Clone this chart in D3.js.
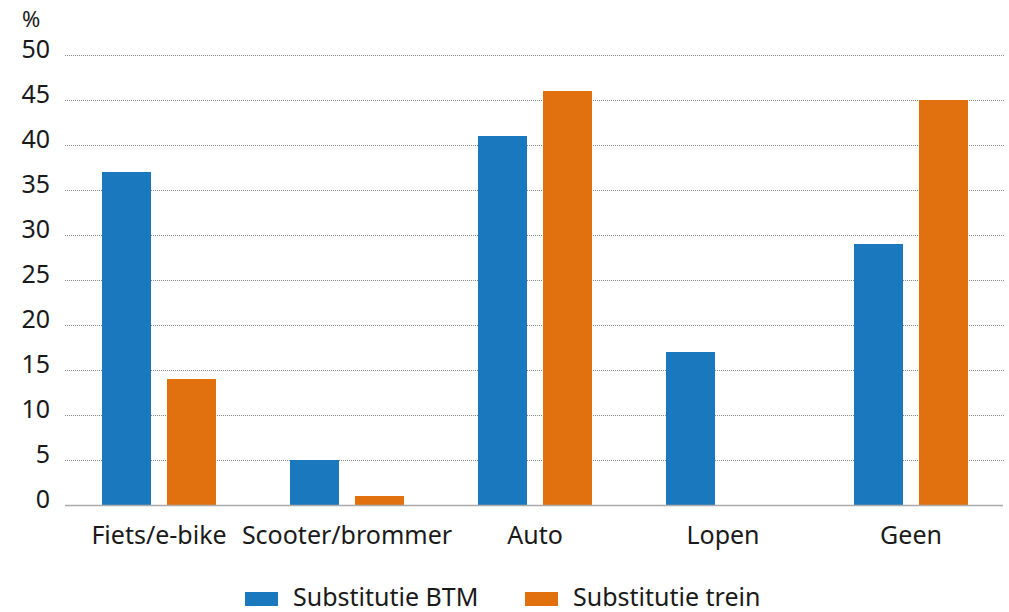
<!DOCTYPE html>
<html><head><meta charset="utf-8">
<script src="https://cdn.jsdelivr.net/npm/d3@7"></script>
<style>body{margin:0;background:#fff}svg{display:block}text{font-family:"Noto Sans","Open Sans",sans-serif;fill:#1a1a1a}</style>
</head><body><svg id="c" width="1009" height="612"></svg>
<script>
const categories = ["Fiets/e-bike","Scooter/brommer","Auto","Lopen","Geen"];
const seriesNames = ["Substitutie BTM","Substitutie trein"];
const btm = [37,5,41,17,29];
const trein = [14,1,46,0,45];
const yTicks = [0,5,10,15,20,25,30,35,40,45,50];
const colors = ["#1a78be","#e1700f"];

const svg = d3.select("#c");
const x0 = d3.scaleBand().domain(categories).range([65,1005]).paddingInner(0).paddingOuter(0);
const y = d3.scaleLinear().domain([0,50]).range([505,55]);
const x1 = d3.scaleBand().domain(seriesNames).range([-57,57]).paddingInner(16/65);

// gridlines
svg.append("g").selectAll("line").data(yTicks.filter(d=>d>0)).join("line")
  .attr("x1",65).attr("x2",1005).attr("y1",d=>y(d)+0.5).attr("y2",d=>y(d)+0.5)
  .attr("stroke","#888").attr("stroke-width",1).attr("stroke-dasharray","1,1");

// y tick labels
const yAxis = d3.axisLeft(y).tickValues(yTicks).tickSize(0).tickPadding(0);
const ga = svg.append("g").attr("transform","translate(50,0)").call(yAxis);
ga.select(".domain").remove();
ga.selectAll("text").attr("font-size",25).attr("dy","2.5").style("font-family","'Noto Sans',sans-serif").attr("fill","#1a1a1a");
svg.append("text").attr("x",22).attr("y",27).attr("font-size",22).text("%");

// bars
const data = categories.map((c,i)=>({c, vals:[btm[i],trein[i]]}));
const g = svg.append("g");
data.forEach(d=>{
  d.vals.forEach((v,j)=>{
    if(v<=0) return;
    g.append("rect")
      .attr("x",x0(d.c)+x0.bandwidth()/2+x1(seriesNames[j]))
      .attr("width",x1.bandwidth())
      .attr("y",y(v)).attr("height",y(0)-y(v))
      .attr("fill",colors[j]);
  });
});

// x axis
const xAxis = d3.axisBottom(x0).tickSize(0).tickPadding(0);
const gx = svg.append("g").attr("transform","translate(0,505.5)").call(xAxis);
gx.select(".domain").attr("stroke","#aaa").attr("stroke-width",1.5).attr("d","M65,0H1003");
gx.selectAll("text").attr("font-size",25).attr("dy",null).attr("y",38).style("font-family","'Noto Sans',sans-serif").attr("fill","#1a1a1a");

// legend
const legX = [245,525];
const lg = svg.append("g");
seriesNames.forEach((s,i)=>{
  lg.append("rect").attr("x",legX[i]).attr("y",592).attr("width",33).attr("height",14).attr("fill",colors[i]);
  lg.append("text").attr("x",legX[i]+48).attr("y",606).attr("font-size",25).text(s);
});
</script></body></html>
